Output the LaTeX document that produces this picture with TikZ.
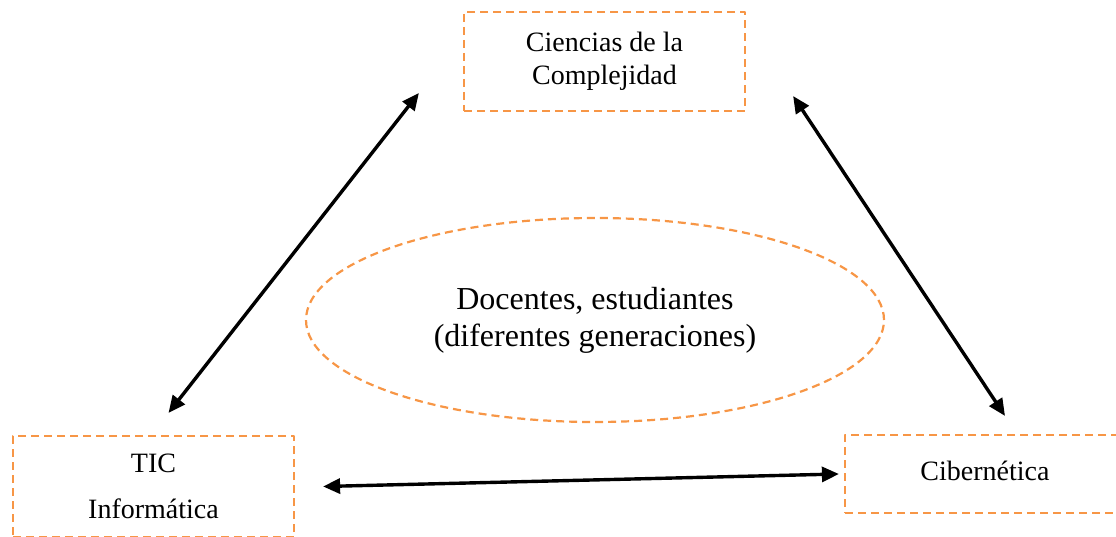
\documentclass[tikz,border=0pt]{standalone}
\usepackage{fontspec}
\setmainfont{Liberation Serif}
\usetikzlibrary{shapes.geometric,arrows.meta,calc}
\begin{document}
\begin{tikzpicture}[x=1pt,y=-1pt, line join=round, >={Triangle[length=17pt,width=15pt]}]
		\definecolor{naranja}{RGB}{247,150,70}
		\tikzset{caja/.style={draw=naranja,dash pattern=on 8pt off 5pt,line width=2.2pt,inner sep=0pt,align=center,font=\fontsize{28}{33}\selectfont},
			flecha/.style={<->,line width=3.4pt}}
		\useasboundingbox (0,0) rectangle (1116,537);
		\node[caja,minimum width=281,minimum height=99] (cc) at (604.5,61.5) {Ciencias de la\\Complejidad};
		\node[caja,minimum width=281,minimum height=101] (tic) at (153.5,486.5) {TIC\\[13pt]Informática};
		\node[caja,minimum width=280,minimum height=78] (cib) at (985,474) {\raisebox{7pt}{Cibernética}};
		\node[caja,ellipse,minimum width=578,minimum height=204,font=\fontsize{32}{37}\selectfont] (doc) at (595,320) {Docentes, estudiantes\\(diferentes generaciones)};
		\draw[flecha] ($(tic.north)+(15,-22)$) -- ($(cc.west)+(-44,31.5)$);
		\draw[flecha] ($(cc.east)+(47,34.5)$) -- ($(cib.north)+(20,-18)$);
		\draw[flecha] ($(tic.east)+(28,0)$) -- ($(cib.west)+(-5,0)$);
\end{tikzpicture}
\end{document}
